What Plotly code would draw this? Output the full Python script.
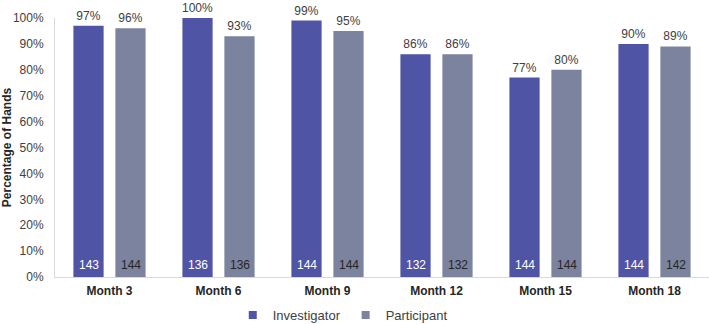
import plotly.graph_objects as go

months = ["Month 3", "Month 6", "Month 9", "Month 12", "Month 15", "Month 18"]
investigator_pct = [97, 100, 99, 86, 77, 90]
participant_pct = [96, 93, 95, 86, 80, 89]
investigator_n = [143, 136, 144, 132, 144, 144]
participant_n = [144, 136, 144, 132, 144, 142]

c_inv = "#5054A4"
c_par = "#7B839E"
font_fam = "Liberation Sans, Arial, sans-serif"

fig = go.Figure()
fig.add_trace(go.Bar(
    name="Investigator", x=months, y=[v / 100 for v in investigator_pct],
    marker=dict(color=c_inv, line=dict(width=0)), showlegend=False,
    text=[f"{v}%" for v in investigator_pct], textposition="outside", constraintext="none",
    textfont=dict(size=12, color="#404040", family=font_fam), cliponaxis=False,
))
fig.add_trace(go.Bar(
    name="Participant", x=months, y=[v / 100 for v in participant_pct],
    marker=dict(color=c_par, line=dict(width=0)), showlegend=False,
    text=[f"{v}%" for v in participant_pct], textposition="outside", constraintext="none",
    textfont=dict(size=12, color="#404040", family=font_fam), cliponaxis=False,
))
# legend entries with small square markers
for name, col in [("Investigator", c_inv), ("Participant", c_par)]:
    fig.add_trace(go.Scatter(x=[None], y=[None], mode="markers", name=name,
                             marker=dict(symbol="square", size=8, color=col)))

shift = 21
for m, n in zip(months, investigator_n):
    fig.add_annotation(x=m, y=0, xref="x", yref="y", text=str(n), showarrow=False,
                       xshift=-shift, yanchor="bottom", yshift=3,
                       font=dict(size=12, color="#FFFFFF", family=font_fam))
for m, n in zip(months, participant_n):
    fig.add_annotation(x=m, y=0, xref="x", yref="y", text=str(n), showarrow=False,
                       xshift=shift, yanchor="bottom", yshift=3,
                       font=dict(size=12, color="#262626", family=font_fam))

fig.update_layout(
    width=709, height=324,
    margin=dict(l=55, r=0, t=18, b=47),
    paper_bgcolor="white", plot_bgcolor="white",
    barmode="group", bargap=0.23, bargroupgap=0.28,
    font=dict(family=font_fam, size=12, color="#404040"),
    legend=dict(orientation="h", x=0.44, xanchor="center", y=0.028, yref="container",
                yanchor="middle", font=dict(size=13, color="#404040"), itemwidth=30,
                traceorder="normal"),
    xaxis=dict(showline=True, linecolor="#D9D9D9", linewidth=1, ticks="outside",
               ticklen=3, tickcolor="rgba(0,0,0,0)", automargin=False,
               tickfont=dict(size=12, color="#262626", family=font_fam, weight="bold"),
               showgrid=False),
    yaxis=dict(range=[0, 1], tickvals=[i / 10 for i in range(11)], tickformat=".0%",
               showline=True, linecolor="#D9D9D9", linewidth=1, showgrid=False,
               zeroline=False, ticks="", ticklen=0, ticklabelstandoff=8,
               tickfont=dict(size=12, color="#404040"),
               automargin=False,
               title=dict(text="<b>Percentage of Hands</b>", font=dict(size=12, color="#262626"), standoff=1)),
)

fig.write_html("out.html")
